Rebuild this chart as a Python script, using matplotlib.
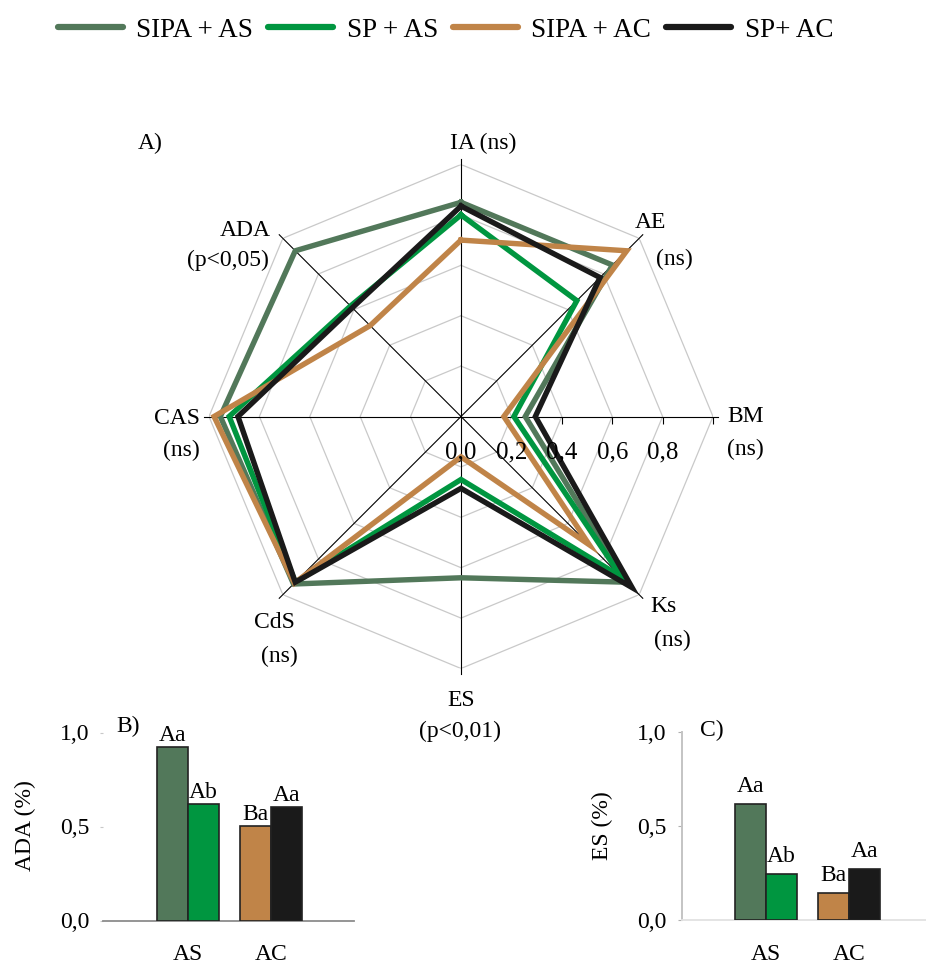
import numpy as np
import matplotlib
matplotlib.use("Agg")
import matplotlib.pyplot as plt
from matplotlib.lines import Line2D

plt.rcParams['font.family'] = ['Liberation Serif', 'DejaVu Serif']

# ---------------- data ----------------
series = ["SIPA + AS", "SP + AS", "SIPA + AC", "SP+ AC"]
colors = ["#52785A", "#009640", "#C08448", "#1A1A1A"]

radar_axes = ["IA", "AE", "BM", "Ks", "ES", "CdS", "CAS", "ADA"]
sipa_as = [0.85, 0.85, 0.255, 0.93, 0.64, 0.94, 0.955, 0.93]
sp_as = [0.80, 0.65, 0.21, 0.90, 0.25, 0.93, 0.92, 0.62]
sipa_ac = [0.70, 0.93, 0.17, 0.72, 0.16, 0.935, 0.98, 0.51]
sp_ac = [0.835, 0.78, 0.295, 0.96, 0.285, 0.93, 0.885, 0.61]
radar_values = [sipa_as, sp_as, sipa_ac, sp_ac]

radar_rings = [0.2, 0.4, 0.6, 0.8, 1.0]
radar_tick_labels = ["0,0", "0,2", "0,4", "0,6", "0,8"]

groups = ["AS", "AC"]
ada_values = [0.925, 0.62, 0.505, 0.606]
ada_letters = ["Aa", "Ab", "Ba", "Aa"]
es_values = [0.617, 0.243, 0.142, 0.271]
es_letters = ["Aa", "Ab", "Ba", "Aa"]
bar_ticks = [0.0, 0.5, 1.0]
bar_tick_labels = ["0,0", "0,5", "1,0"]

W, H = 926, 961
fig = plt.figure(figsize=(W / 100, H / 100), dpi=100)
fig.patch.set_facecolor("white")


def box(left, top, right, bottom):
    """Axes rectangle from pixel edges (origin top-left)."""
    return [left / W, 1 - bottom / H, (right - left) / W, (bottom - top) / H]


def ftext(x, y, s, **kw):
    kw.setdefault("ha", "center")
    kw.setdefault("va", "center")
    kw.setdefault("fontsize", 17)
    fig.text(x / W, 1 - y / H, s, **kw)


# ---------------- radar (A) ----------------
cx, cy, R = 461, 416.5, 252
ax = fig.add_axes(box(cx - R, cy - R, cx + R, cy + R), projection="polar")
ax.set_theta_zero_location("N")
ax.set_theta_direction(-1)
ax.set_ylim(0, 1)
ax.grid(False)
ax.set_xticks([])
ax.set_yticks([])
ax.spines["polar"].set_visible(False)
ax.patch.set_alpha(0)

n = len(radar_axes)
theta = np.linspace(0, 2 * np.pi, n, endpoint=False)
theta_closed = np.append(theta, theta[0])

for r in radar_rings:
    ax.plot(theta_closed, [r] * (n + 1), color="#c9c9c9", lw=0.9, zorder=1)
for t in theta:
    ax.plot([t, t], [0, 1.02], color="black", lw=0.8, zorder=2, clip_on=False)

bm = theta[radar_axes.index("BM")]
ax.plot([bm] * 4, radar_rings[1:], linestyle="none", marker=3, markersize=5,
        markeredgecolor="black", markeredgewidth=0.8, zorder=2, clip_on=False)
for r, lab in zip([0.0] + radar_rings[:-1], radar_tick_labels):
    ax.annotate(lab, xy=(bm, r), xytext=(0, -26), textcoords="offset points",
                ha="center", va="center", fontsize=18, zorder=6)

for vals, col in zip(radar_values, colors):
    ax.plot(theta_closed, vals + vals[:1], color=col, lw=3.9,
            solid_joinstyle="miter", zorder=4)

ftext(150, 143, "A)")
ftext(483, 143, "IA (ns)")
ftext(650, 222, "AE")
ftext(674, 259, "(ns)")
ftext(271, 230, "ADA", ha="right")
ftext(269, 260, "(p<0,05)", ha="right")
ftext(727, 417, "BM", ha="left")
ftext(727, 449, "(ns)", ha="left")
ftext(200, 418, "CAS", ha="right")
ftext(200, 450, "(ns)", ha="right")
ftext(650, 607, "Ks", ha="left")
ftext(654, 640, "(ns)", ha="left")
ftext(274, 623, "CdS")
ftext(279, 656, "(ns)")
ftext(461, 700, "ES")
ftext(460, 731, "(p<0,01)")

# ---------------- legend ----------------
handles = [Line2D([0], [0], color=c, lw=4.5, solid_capstyle="round") for c in colors]
fig.legend(handles, series, loc="upper center", bbox_to_anchor=(0.481, 1.007),
           ncol=4, frameon=False, fontsize=19.5, handlelength=2.4,
           handletextpad=0.5, columnspacing=0.55)


# ---------------- bar panels ----------------
def bar_panel(rect, values, letters, ylabel, panel, panel_xy, ylabel_x,
              xlim, left_spine, base_color, letter_gap):
    bx = fig.add_axes(rect)
    bx.patch.set_alpha(0)
    width = 0.372
    pos = [0 - width / 2, 0 + width / 2, 1 - width / 2, 1 + width / 2]
    bars = bx.bar(pos, values, width=width, color=colors,
                  edgecolor="#222222", linewidth=1.2, zorder=3)
    for b, lab in zip(bars, letters):
        bx.annotate(lab, xy=(b.get_x() + b.get_width() / 2, b.get_height()),
                    xytext=(0, letter_gap), textcoords="offset points",
                    ha="center", va="baseline", fontsize=17)
    bx.set_xlim(*xlim)
    bx.set_ylim(0, 1)
    bx.set_yticks(bar_ticks)
    bx.set_yticklabels(bar_tick_labels, fontsize=17)
    bx.set_xticks([0, 1])
    bx.set_xticklabels(groups, fontsize=17)
    bx.tick_params(axis="x", length=0, pad=17)
    for s in ["top", "right"]:
        bx.spines[s].set_visible(False)
    bx.spines["bottom"].set_color(base_color)
    bx.spines["bottom"].set_linewidth(1.3)
    if left_spine:
        bx.spines["left"].set_color("#c4c4c4")
        bx.spines["left"].set_linewidth(1.4)
        bx.tick_params(axis="y", length=3, width=0.8, color="#b0b0b0", pad=8)
    else:
        bx.spines["left"].set_visible(False)
        bx.tick_params(axis="y", length=2, width=0.8, color="#c8c8c8", pad=8)
    ftext(ylabel_x, 826, ylabel, rotation=90)
    ftext(panel_xy[0], panel_xy[1], panel)
    return bx


bar_panel(box(103, 732.5, 354, 920.5), ada_values, ada_letters, "ADA (%)",
          "B)", (128, 726), 25, (-1.017, 1.996), False, "#8c8c8c", 4)
bar_panel(box(682, 732.3, 926, 920), es_values, es_letters, "ES (%)",
          "C)", (712, 730), 602, (-1.0, 1.917), True, "#e2e2e2", 9)

fig.savefig("out.png", dpi=100, facecolor="white")
